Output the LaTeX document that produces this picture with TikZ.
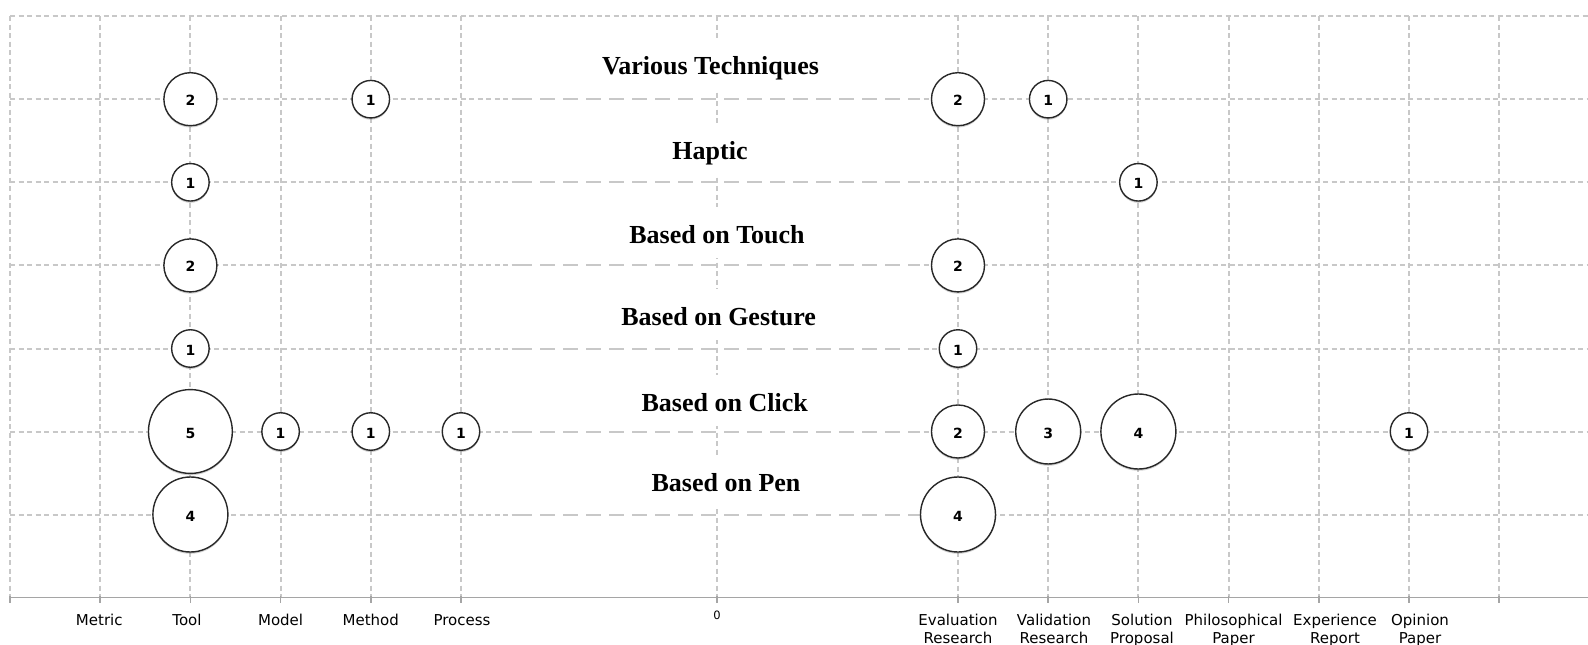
\documentclass[tikz,border=0pt]{standalone}
\usepackage{fontspec}
\setmainfont{Liberation Serif}
\newfontfamily\labelfont{DejaVu Sans}
\usetikzlibrary{shadows}
\definecolor{gridgray}{RGB}{200,200,200}
\definecolor{axisgray}{RGB}{165,165,165}
\definecolor{rimgray}{RGB}{40,40,40}
\begin{document}
\begin{tikzpicture}[x=1pt,y=-1pt,
  gridshort/.style={gridgray, line width=2pt, dash pattern=on 5pt off 3.5pt},
  gridlong/.style={gridgray, line width=2pt, dash pattern=on 15pt off 8pt},
  axisline/.style={axisgray, line width=1.6pt},
  bubble/.style={circle, draw=rimgray, line width=1.4pt, fill=white, inner sep=0pt,
    minimum size={37.5pt*sqrt(#1)}, text height=13pt, text depth=0pt,
    font=\labelfont\bfseries\fontsize{14}{15}\selectfont,
    drop shadow={shadow xshift=0pt, shadow yshift=-1.8pt, opacity=0.35}},
  title/.style={anchor=base, fill=white, inner xsep=4pt, inner ysep=0pt,
    text height=36pt, text depth=15pt, font=\bfseries\fontsize{26}{30}\selectfont},
  axislabel/.style={anchor=north, align=center, inner sep=0pt,
    font=\labelfont\fontsize{15}{18}\selectfont},
]
% canvas
\fill[white] (0,0) rectangle (1588,645);
\useasboundingbox (0,0) rectangle (1588,645);

% vertical grid lines
\foreach \x in {10,100.2,190.4,280.6,370.8,461,716.7,958,1048.2,1138.4,1228.6,1318.8,1409,1499.2}
  \draw[gridshort] (\x,16) -- (\x,597.5);

% horizontal grid lines
\draw[gridshort] (10,16) -- (1588,16);
\foreach \y in {99.2,182.3,265.4,348.5,431.5,514.5} {
  \draw[gridshort] (10,\y) -- (517,\y);
  \draw[gridlong] (517,\y) -- (915,\y);
  \draw[gridshort] (915,\y) -- (1588,\y);
}

% x axis with ticks
\draw[axisline] (10,597.5) -- (1588,597.5);
\foreach \x in {10,100.2,190.4,280.6,370.8,461,716.7,958,1048.2,1138.4,1228.6,1318.8,1409,1499.2}
  \draw[axisline] (\x,596) -- (\x,602.5);

% category titles
\node[title] (t-various) at (710.5,74) {Various Techniques};
\node[title] (t-haptic)  at (710,159)  {Haptic};
\node[title] (t-touch)   at (717,243)  {Based on Touch};
\node[title] (t-gesture) at (718.6,325) {Based on Gesture};
\node[title] (t-click)   at (724.7,411) {Based on Click};
\node[title] (t-pen)     at (726,491)  {Based on Pen};

% bubbles: Various Techniques
\node[bubble=2] (v-tool)   at (190.4,99.2) {2};
\node[bubble=1] (v-method) at (370.8,99.2) {1};
\node[bubble=2] (v-eval)   at (958,99.2)   {2};
\node[bubble=1] (v-valid)  at (1048.2,99.2) {1};
% Haptic
\node[bubble=1] (h-tool)   at (190.4,182.3) {1};
\node[bubble=1] (h-sol)    at (1138.4,182.3) {1};
% Based on Touch
\node[bubble=2] (t-tool)   at (190.4,265.4) {2};
\node[bubble=2] (t-eval)   at (958,265.4)   {2};
% Based on Gesture
\node[bubble=1] (g-tool)   at (190.4,348.5) {1};
\node[bubble=1] (g-eval)   at (958,348.5)   {1};
% Based on Click
\node[bubble=5] (c-tool)    at (190.4,431.5) {5};
\node[bubble=1] (c-model)   at (280.6,431.5) {1};
\node[bubble=1] (c-method)  at (370.8,431.5) {1};
\node[bubble=1] (c-process) at (461,431.5)   {1};
\node[bubble=2] (c-eval)    at (958,431.5)   {2};
\node[bubble=3] (c-valid)   at (1048.2,431.5) {3};
\node[bubble=4] (c-sol)     at (1138.4,431.5) {4};
\node[bubble=1] (c-opin)    at (1409,431.5)  {1};
% Based on Pen
\node[bubble=4] (p-tool)   at (190.4,514.5) {4};
\node[bubble=4] (p-eval)   at (958,514.5)   {4};

% axis labels
\node[axislabel] (l-metric)  at (99.3,614.3)  {Metric};
\node[axislabel] (l-tool)    at (187,614.3)   {Tool};
\node[axislabel] (l-model)   at (280.6,614.3) {Model};
\node[axislabel] (l-method)  at (370.8,614.3) {Method};
\node[axislabel] (l-process) at (462,614.3)   {Process};
\node[font=\labelfont\fontsize{11.5}{13}\selectfont, inner sep=0pt] (l-zero) at (717,615) {0};
\node[axislabel] (l-eval)    at (958,614.3)   {Evaluation\\Research};
\node[axislabel] (l-valid)   at (1054,614.3)  {Validation\\Research};
\node[axislabel] (l-sol)     at (1142,614.3)  {Solution\\Proposal};
\node[axislabel] (l-phil)    at (1233.5,614.3) {Philosophical\\Paper};
\node[axislabel] (l-exp)     at (1335,614.3)  {Experience\\Report};
\node[axislabel] (l-opin)    at (1420,614.3)  {Opinion\\Paper};
\end{tikzpicture}
\end{document}
